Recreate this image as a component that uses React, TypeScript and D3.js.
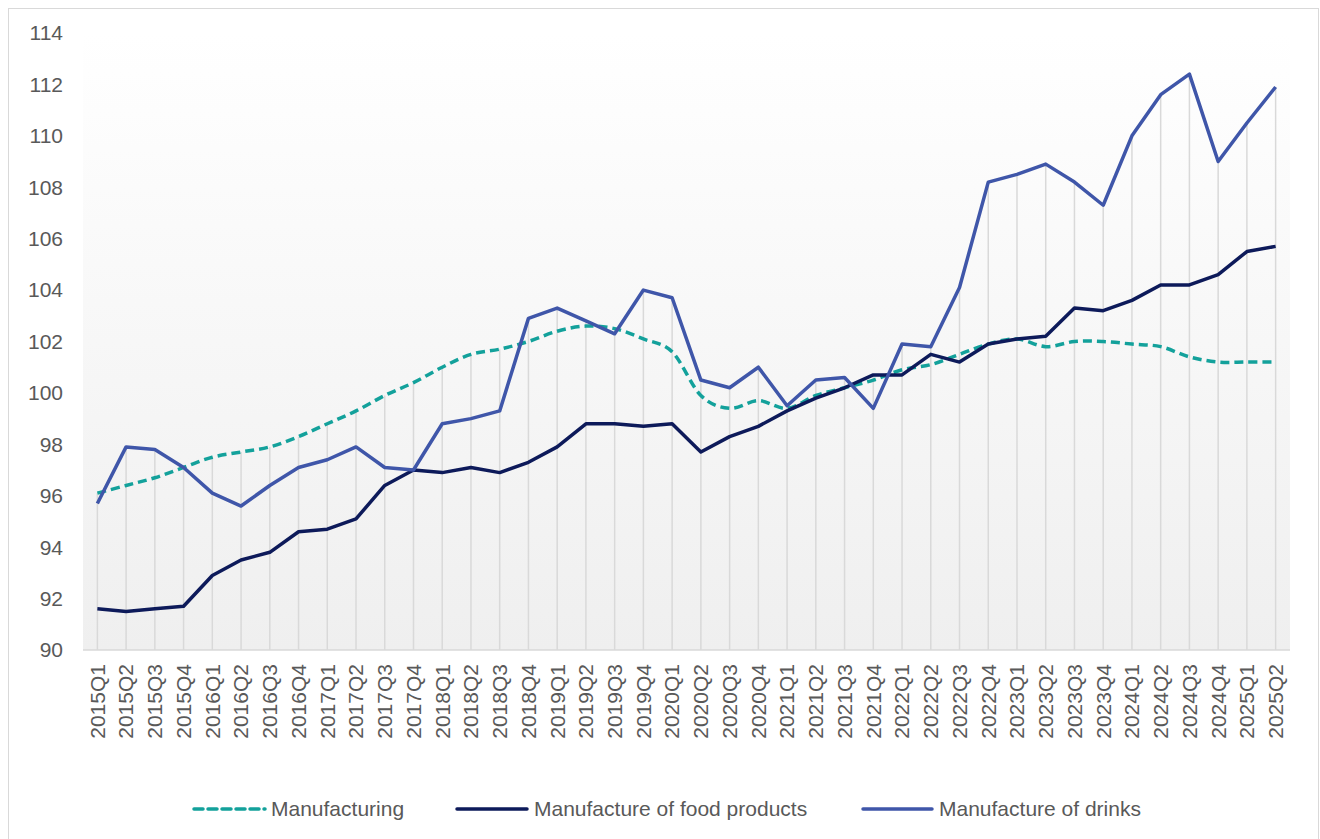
import React from "react";
import * as d3 from "d3";

// quarters 2015Q1 .. 2025Q2
const quarters = [
  "2015Q1", "2015Q2", "2015Q3", "2015Q4",
  "2016Q1", "2016Q2", "2016Q3", "2016Q4",
  "2017Q1", "2017Q2", "2017Q3", "2017Q4",
  "2018Q1", "2018Q2", "2018Q3", "2018Q4",
  "2019Q1", "2019Q2", "2019Q3", "2019Q4",
  "2020Q1", "2020Q2", "2020Q3", "2020Q4",
  "2021Q1", "2021Q2", "2021Q3", "2021Q4",
  "2022Q1", "2022Q2", "2022Q3", "2022Q4",
  "2023Q1", "2023Q2", "2023Q3", "2023Q4",
  "2024Q1", "2024Q2", "2024Q3", "2024Q4",
  "2025Q1", "2025Q2",
];

const manufacturing = [
  96.1, 96.4, 96.7, 97.1, 97.5, 97.7, 97.9, 98.3, 98.8, 99.3, 99.9, 100.4,
  101.0, 101.5, 101.7, 102.0, 102.4, 102.6, 102.5, 102.1, 101.6, 99.9, 99.4, 99.7,
  99.4, 99.9, 100.2, 100.5, 100.9, 101.1, 101.5, 101.9, 102.1, 101.8, 102.0, 102.0,
  101.9, 101.8, 101.4, 101.2, 101.2, 101.2,
];

const foodProducts = [
  91.6, 91.5, 91.6, 91.7, 92.9, 93.5, 93.8, 94.6, 94.7, 95.1, 96.4, 97.0,
  96.9, 97.1, 96.9, 97.3, 97.9, 98.8, 98.8, 98.7, 98.8, 97.7, 98.3, 98.7,
  99.3, 99.8, 100.2, 100.7, 100.7, 101.5, 101.2, 101.9, 102.1, 102.2, 103.3, 103.2,
  103.6, 104.2, 104.2, 104.6, 105.5, 105.7,
];

const drinks = [
  95.7, 97.9, 97.8, 97.1, 96.1, 95.6, 96.4, 97.1, 97.4, 97.9, 97.1, 97.0,
  98.8, 99.0, 99.3, 102.9, 103.3, 102.8, 102.3, 104.0, 103.7, 100.5, 100.2, 101.0,
  99.5, 100.5, 100.6, 99.4, 101.9, 101.8, 104.1, 108.2, 108.5, 108.9, 108.2, 107.3,
  110.0, 111.6, 112.4, 109.0, 110.5, 111.9,
];

const yTicks = [90, 92, 94, 96, 98, 100, 102, 104, 106, 108, 110, 112, 114];

const seriesNames = ["Manufacturing", "Manufacture of food products", "Manufacture of drinks"];
const seriesColors = ["#13a19b", "#0d1a5a", "#3f56a9"];

const W = 1320;
const H = 839;
const plot = { left: 83, right: 1290, top: 33, bottom: 650 };
const font = "Arial, 'Liberation Sans', sans-serif";
const fontSize = 21;
const textColor = "#595959";

export default function App() {
  const x = d3.scaleBand().domain(quarters).range([plot.left, plot.right]);
  const cx = (q: string) => (x(q) as number) + x.bandwidth() / 2;
  const y = d3.scaleLinear().domain([90, 114]).range([plot.bottom, plot.top]);

  const straight = d3.line<number>().x((d, i) => cx(quarters[i])).y((d) => y(d));
  const smooth = d3
    .line<number>()
    .x((d, i) => cx(quarters[i]))
    .y((d) => y(d))
    .curve(d3.curveCardinal.tension(0));

  const tops = quarters.map((q, i) => Math.max(manufacturing[i], foodProducts[i], drinks[i]));

  const legend = [
    { name: seriesNames[0], color: seriesColors[0], dash: "9,5", x0: 194, x1: 265, tx: 271 },
    { name: seriesNames[1], color: seriesColors[1], dash: undefined, x0: 457, x1: 527, tx: 534 },
    { name: seriesNames[2], color: seriesColors[2], dash: undefined, x0: 863, x1: 932, tx: 939 },
  ];

  return (
    <div style={{ position: "absolute", left: 0, top: 0 }}>
      <svg width={W} height={H} style={{ display: "block" }}>
        <defs>
          <linearGradient id="plotBg" x1="0" y1="0" x2="0" y2="1">
            <stop offset="0" stopColor="#ffffff" />
            <stop offset="1" stopColor="#efefef" />
          </linearGradient>
        </defs>
        <rect x={0} y={0} width={W} height={H} fill="#fff" />
        <rect x={8.5} y={8.5} width={1310} height={840} fill="none" stroke="#d9d9d9" strokeWidth={1} />

        <rect
          x={plot.left}
          y={plot.top}
          width={plot.right - plot.left}
          height={plot.bottom - plot.top}
          fill="url(#plotBg)"
        />

        {/* drop lines */}
        {quarters.map((q, i) => (
          <line
            key={"drop" + q}
            x1={cx(q)}
            x2={cx(q)}
            y1={plot.bottom}
            y2={y(tops[i])}
            stroke="#d9d9d9"
            strokeWidth={1.5}
          />
        ))}

        <line x1={plot.left} x2={plot.right} y1={plot.bottom} y2={plot.bottom} stroke="#d9d9d9" strokeWidth={1.5} />

        {/* y labels */}
        {yTicks.map((t) => (
          <text
            key={"y" + t}
            x={63}
            y={y(t)}
            dy="0.35em"
            textAnchor="end"
            fontFamily={font}
            fontSize={fontSize}
            fill={textColor}
          >
            {t}
          </text>
        ))}

        {/* x labels */}
        {quarters.map((q) => (
          <text
            key={"x" + q}
            transform={`translate(${cx(q)},664) rotate(-90)`}
            dy="0.35em"
            textAnchor="end"
            fontFamily={font}
            fontSize={fontSize}
            fill={textColor}
          >
            {q}
          </text>
        ))}

        <path
          d={smooth(manufacturing) || ""}
          fill="none"
          stroke={seriesColors[0]}
          strokeWidth={3.5}
          strokeDasharray="9,5"
        />
        <path d={straight(foodProducts) || ""} fill="none" stroke={seriesColors[1]} strokeWidth={3.5} strokeLinejoin="round" />
        <path d={straight(drinks) || ""} fill="none" stroke={seriesColors[2]} strokeWidth={3.5} strokeLinejoin="round" />

        {/* legend */}
        {legend.map((l) => (
          <g key={l.name}>
            <line
              x1={l.x0}
              x2={l.x1}
              y1={809}
              y2={809}
              stroke={l.color}
              strokeWidth={3.5}
              strokeDasharray={l.dash}
              strokeLinecap="round"
            />
            <text x={l.tx} y={809} dy="0.35em" fontFamily={font} fontSize={fontSize} fill={textColor}>
              {l.name}
            </text>
          </g>
        ))}
      </svg>
    </div>
  );
}
